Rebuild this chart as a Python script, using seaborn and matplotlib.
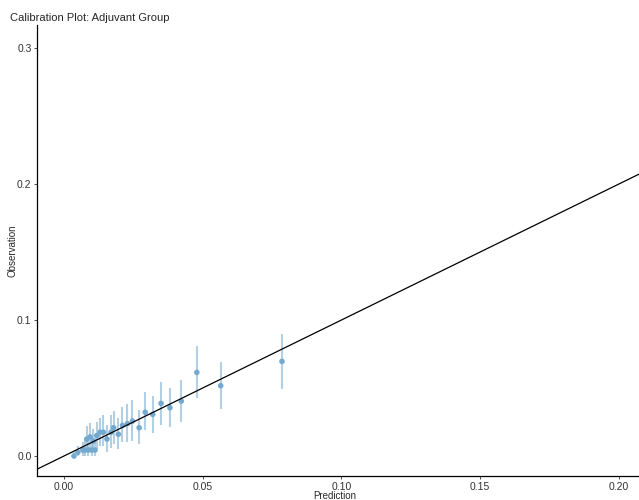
"""Calibration plot for the adjuvant group."""

import matplotlib

matplotlib.use("Agg", force=True)

import matplotlib.pyplot as plt
import pandas as pd
import seaborn as sns

# predicted risk per bin, observed rate, and 95% interval
prediction = [
    0.0036, 0.0050, 0.0068, 0.0076, 0.0082, 0.0088, 0.0094, 0.0100, 0.0106,
    0.0112, 0.0118, 0.0130, 0.0142, 0.0155, 0.0170, 0.0179, 0.0196, 0.0211,
    0.0229, 0.0247, 0.0271, 0.0293, 0.0320, 0.0350, 0.0382, 0.0423, 0.0479,
    0.0565, 0.0786,
]
observation = [
    0.0000, 0.0027, 0.0044, 0.0044, 0.0125, 0.0044, 0.0140, 0.0044, 0.0110,
    0.0044, 0.0150, 0.0175, 0.0175, 0.0125, 0.0175, 0.0208, 0.0160, 0.0225,
    0.0238, 0.0257, 0.0208, 0.0322, 0.0306, 0.0387, 0.0355, 0.0404, 0.0615,
    0.0517, 0.0696,
]
lower = [
    0.0000, 0.0000, 0.0000, 0.0000, 0.0040, 0.0000, 0.0050, 0.0000, 0.0030,
    0.0000, 0.0050, 0.0070, 0.0070, 0.0030, 0.0060, 0.0090, 0.0050, 0.0100,
    0.0100, 0.0110, 0.0090, 0.0190, 0.0170, 0.0230, 0.0210, 0.0250, 0.0424,
    0.0346, 0.0493,
]
upper = [
    0.0030, 0.0070, 0.0100, 0.0120, 0.0220, 0.0140, 0.0240, 0.0150, 0.0200,
    0.0130, 0.0250, 0.0280, 0.0300, 0.0230, 0.0300, 0.0330, 0.0280, 0.0360,
    0.0380, 0.0410, 0.0340, 0.0470, 0.0443, 0.0542, 0.0502, 0.0559, 0.0809,
    0.0693, 0.0897,
]

data = pd.DataFrame(
    {"pred": prediction, "obs": observation, "lo": lower, "hi": upper}
)

sns.set_style("ticks")
plt.rcParams["font.family"] = ["Liberation Sans", "DejaVu Sans"]

fig = plt.figure(figsize=(6.39, 5.0), dpi=100)
ax = fig.add_axes([0.058, 0.048, 0.942, 0.902])

point_color = "#74a9cf"
ax.vlines(data["pred"], data["lo"], data["hi"], color=point_color,
          alpha=0.55, linewidth=1.5, zorder=2)
sns.scatterplot(data=data, x="pred", y="obs", ax=ax, color=point_color,
                s=16, edgecolor="none", zorder=3)
ax.axline((0, 0), slope=1, color="black", linewidth=0.9, zorder=4)

ax.set_xlim(-0.0097, 0.2073)
ax.set_ylim(-0.0147, 0.317)
ax.set_xticks([0.0, 0.05, 0.10, 0.15, 0.20])
ax.set_xticklabels(["0.00", "0.05", "0.10", "0.15", "0.20"])
ax.set_yticks([0.0, 0.1, 0.2, 0.3])
ax.set_yticklabels(["0.0", "0.1", "0.2", "0.3"])
ax.tick_params(axis="both", labelsize=7.5, length=2.5, width=0.6,
               colors="#333333", labelcolor="#333333", pad=1.5)

for side in ("top", "right"):
    ax.spines[side].set_visible(False)
for side in ("left", "bottom"):
    ax.spines[side].set_linewidth(0.9)
    ax.spines[side].set_color("black")

ax.set_xlabel("Prediction", fontsize=7, va="center")
ax.xaxis.set_label_coords(0.495, -0.045)
ax.set_ylabel("Observation", fontsize=7, va="center")
ax.yaxis.set_label_coords(-0.040, 0.5)
ax.set_title("Calibration Plot: Adjuvant Group", fontsize=8, loc="left",
             x=-0.045, pad=3)

fig.savefig("out.png", dpi=100)
